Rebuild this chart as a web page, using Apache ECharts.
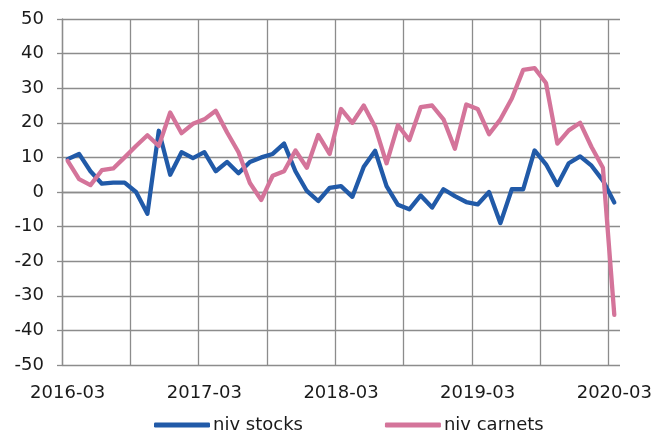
<!DOCTYPE html>
<html>
<head>
<meta charset="utf-8">
<script src="https://cdn.jsdelivr.net/npm/echarts@6/dist/echarts.min.js"></script>
<style>
  html, body { margin: 0; padding: 0; background: #fff; }
  #chart { width: 668px; height: 437px; }
</style>
</head>
<body>
<div id="chart"></div>
<script>
// mois (mars 2016 -> mars 2020)
var months = [
  '2016-03','2016-04','2016-05','2016-06','2016-07','2016-08','2016-09','2016-10','2016-11','2016-12',
  '2017-01','2017-02','2017-03','2017-04','2017-05','2017-06','2017-07','2017-08','2017-09','2017-10','2017-11','2017-12',
  '2018-01','2018-02','2018-03','2018-04','2018-05','2018-06','2018-07','2018-08','2018-09','2018-10','2018-11','2018-12',
  '2019-01','2019-02','2019-03','2019-04','2019-05','2019-06','2019-07','2019-08','2019-09','2019-10','2019-11','2019-12',
  '2020-01','2020-02','2020-03'
];

// niv stocks
var nivStocks = [
  9.5, 11, 6, 2.4, 2.7, 2.7, 0, -6.3, 17.7, 5, 11.5, 9.8,
  11.5, 6, 8.7, 5.4, 8.7, 10, 11, 14, 6, 0.3, -2.6, 1.2,
  1.7, -1.4, 7.3, 11.9, 1.7, -3.7, -5, -1, -4.5, 0.8, -1.2, -2.9,
  -3.6, 0, -9, 0.8, 0.8, 12, 8, 2, 8.3, 10.3, 7.6, 3.3,
  -3
];

// niv carnets
var nivCarnets = [
  9, 3.7, 2, 6.3, 6.8, 10, 13.3, 16.4, 13.3, 23, 17, 19.7,
  21, 23.5, 17.2, 11.5, 2.6, -2.3, 4.7, 6, 12, 7, 16.5, 11,
  24, 20, 25, 18.8, 8.3, 19.3, 15, 24.5, 25, 21, 12.5, 25.3,
  24, 16.7, 21, 27, 35.3, 35.8, 31.5, 14, 17.8, 20, 13, 7,
  -35.5
];

var yTicks = { min: -50, max: 50, step: 10 };

var gridColor = '#8c8c8c';
var font = 'DejaVu Sans';

// pas de trait vertical sur le bord droit : dernière couleur transparente
var vGridColors = [];
for (var i = 0; i < 9; i++) vGridColors.push(gridColor);
vGridColors.push('rgba(0,0,0,0)');

var chart = echarts.init(document.getElementById('chart'));
var option = {
  animation: false,
  color: ['#215aa8', '#d4749a'],
  grid: { left: 62, top: 19, right: 48, bottom: 72, containLabel: false },
  legend: {
    top: 411,
    left: 149,
    icon: 'roundRect',
    itemWidth: 56,
    itemHeight: 5,
    itemGap: 82,
    textStyle: { fontFamily: font, fontSize: 18, color: '#1a1a1a', padding: [0, 0, 0, -2] },
    data: ['niv stocks', 'niv carnets']
  },
  xAxis: {
    type: 'category',
    data: months,
    boundaryGap: true,
    axisLine: { lineStyle: { color: gridColor, width: 1.3 } },
    axisTick: { show: false },
    axisLabel: {
      interval: 11,
      margin: 19,
      fontFamily: font,
      fontSize: 18,
      color: '#1a1a1a'
    },
    splitLine: {
      show: true,
      interval: 5,
      showMaxLine: false,
      lineStyle: { color: vGridColors, width: 1.3 }
    }
  },
  yAxis: {
    type: 'value',
    min: yTicks.min,
    max: yTicks.max,
    interval: yTicks.step,
    axisLine: { show: true, lineStyle: { color: gridColor, width: 1.3 } },
    axisTick: { show: true, length: 5, lineStyle: { color: gridColor, width: 1.3 } },
    axisLabel: { margin: 18, fontFamily: font, fontSize: 18, color: '#1a1a1a' },
    splitLine: { show: true, lineStyle: { color: gridColor, width: 1.3 } }
  },
  series: [
    {
      name: 'niv stocks',
      type: 'line',
      data: nivStocks,
      symbol: 'none',
      lineStyle: { width: 4.3, cap: 'round', join: 'round' }
    },
    {
      name: 'niv carnets',
      type: 'line',
      data: nivCarnets,
      symbol: 'none',
      lineStyle: { width: 4.3, cap: 'round', join: 'round' }
    }
  ]
};
chart.setOption(option);
</script>
</body>
</html>
